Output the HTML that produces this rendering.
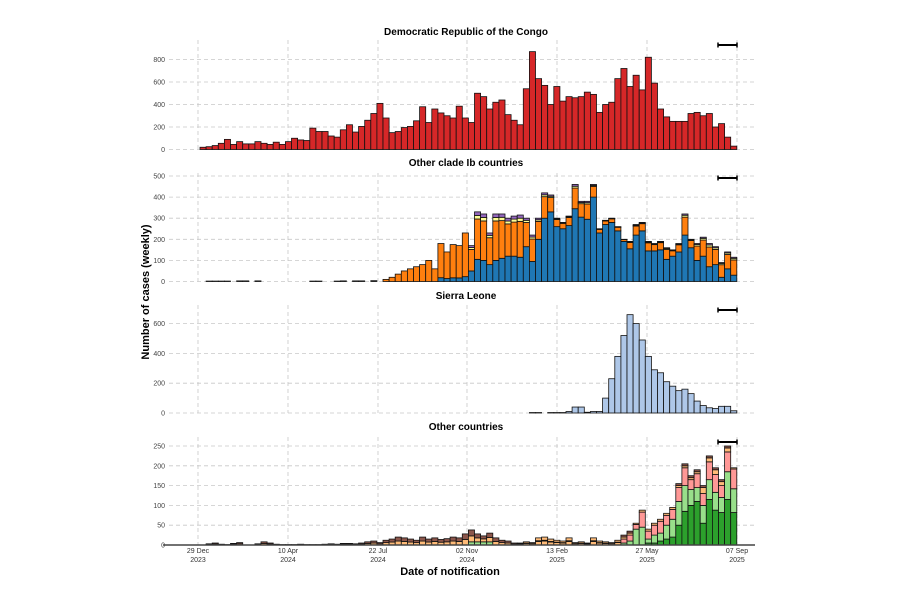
<!DOCTYPE html>
<html><head><meta charset="utf-8"><style>
html,body{margin:0;padding:0;background:#fff;}
svg{display:block;font-family:"Liberation Sans",sans-serif;}
</style></head><body>
<svg id="s" width="900" height="603" xmlns="http://www.w3.org/2000/svg"></svg>
<script>
const S=document.getElementById('s');let h='';
const W=6.1,X0=200;
const gx=[198,288,378,467,557,647,737];
function panel(title,ty,zero,per,step,max,top){
  for(let v=0;v<=max;v+=step){const y=zero-v/step*per;
    h+=`<line x1="169" x2="755" y1="${y}" y2="${y}" stroke="#c8c8c8" stroke-width="0.8" stroke-dasharray="4,3"/>`;
    h+=`<text x="165" y="${y+2.5}" font-size="7" fill="#444" text-anchor="end">${v}</text>`;}
  gx.forEach(x=>h+=`<line x1="${x}" x2="${x}" y1="${top}" y2="${zero}" stroke="#c8c8c8" stroke-width="0.8" stroke-dasharray="4,3"/>`);
  h+=`<text x="466" y="${ty}" font-size="10" font-weight="bold" text-anchor="middle">${title}</text>`;
  const by=top+5;
  h+=`<line x1="718" x2="737" y1="${by}" y2="${by}" stroke="#000" stroke-width="2"/><line x1="718" x2="718" y1="${by-2.5}" y2="${by+2.5}" stroke="#000" stroke-width="1.5"/><line x1="737" x2="737" y1="${by-2.5}" y2="${by+2.5}" stroke="#000" stroke-width="1.5"/>`;
}
function bars(start,data,cols,zero,k){
  data.forEach((d,j)=>{const x=X0+(start+j)*W;let y=zero;
    d.forEach((v,c)=>{if(v<=0)return;const hh=v*k;y-=hh;
      h+=`<rect x="${x.toFixed(2)}" y="${y.toFixed(2)}" width="${W}" height="${hh.toFixed(2)}" fill="${cols[c]}" stroke="#111" stroke-width="0.8"/>`;});});
}
panel('Democratic Republic of the Congo',35,149.5,22.5,200,800,40);
const drc=[20,25,35,55,90,45,70,50,50,70,55,45,65,45,70,100,85,80,190,160,160,120,110,175,220,155,205,260,320,410,280,150,160,195,205,255,380,240,360,325,300,280,385,280,240,500,470,360,420,440,310,260,220,540,870,630,570,400,560,430,470,460,470,510,490,330,400,420,630,720,560,660,530,820,590,360,290,250,250,250,320,330,300,320,200,230,110,30];
bars(0,drc.map(v=>[v]),['#d62728'],149.5,22.5/200);
panel('Other clade Ib countries',166,281.5,21.1,100,500,173);
const cl=[[50,170],[105,330],[100,320],[80,230],[100,320],[110,320],[120,300],[120,310],[115,315],[165,300],[95,220],[200,300],[300,420],[330,410],[260,300],[250,280],[265,310],[345,460],[305,380],[295,380],[400,460],[230,250],[270,290],[280,300],[240,260],[190,200],[155,190],[220,270],[240,280],[145,190],[145,180],[150,190],[105,160],[120,150],[140,180],[220,320],[160,200],[100,180],[120,210],[70,180],[80,165],[20,90],[60,140],[30,115]];
const early=[10,20,35,50,60,70,80,100,60,180,140,175,170,230];
let cd=[];early.forEach((v,i)=>cd.push([i>8?v*0.1:0,v*(i>8?0.9:1),0,0]));
cl.forEach((d,i)=>{let t=d[1]-d[0];let o=t*0.85,r=t-o;cd.push([d[0],o,i>30?r*0.6:r*0.5,i>30?r*0.4:r*0.5]);});
bars(88-cd.length,cd,['#1f77b4','#ff7f0e','#fdfd96','#9467bd'],281.5,21.1/100);
const tiny=[[1,2],[2,2],[3,2],[4,2],[6,3],[7,3],[9,3],[18,2],[19,2],[22,2],[23,3],[25,3],[26,3],[28,4]];
tiny.forEach(([i,v])=>bars(i,[[v]],['#555'],281.5,21.1/100));
panel('Sierra Leone',299,413,29.8,200,600,305);
const sl=[3,3,0,3,3,3,10,40,40,5,10,10,100,230,380,520,660,600,490,380,290,270,210,180,150,160,130,80,50,35,30,45,45,15];
bars(88-sl.length,sl.map(v=>[v]),['#aec7e8'],413,29.8/200);
panel('Other countries',430,545,19.8,50,250,437);
const oc=[];
for(let i=0;i<69;i++){let v=0;
  if(i<30){v=[0,3,5,2,1,4,6,0,0,3,8,5,2,1,1,1,2,1,1,1,2,3,2,4,4,3,5,8,10,6][i];}
  else if(i<52){v=[12,15,20,18,15,12,20,15,18,14,16,20,18,28,30,20,15,22,18,12,10,5][i-30];}
  else {v=[5,8,6,18,20,15,12,10,18,6,8,5,18,10,8,6,12][i-52];}
  oc.push([0,i>=44&&i<=47?8:0,0,v*0.5,v*0.5*(i>=52?0.2:1),v*(i>=52?0.4:0)]);}
const late=[[0,5,10,5,5],[0,10,15,5,5],[0,40,12,3,0],[0,45,38,5,0],[5,10,20,5,0],[5,20,25,5,0],[10,20,30,5,0],[15,35,25,5,0],[20,45,25,5,0],[50,60,35,5,5],[85,65,45,5,5],[100,40,25,5,5],[110,35,35,5,5],[55,45,30,15,5],[115,50,45,10,5],[88,45,45,12,5],[82,38,30,10,5],[115,70,50,10,5],[82,60,50,3,0]];
late.forEach(d=>oc.push([d[0],d[1],d[2],d[3],d[4],0]));
bars(88-oc.length,oc,['#2ca02c','#98df8a','#ff9896','#ffbb78','#8c564b','#ffbb78'],545,19.8/50);
h+=`<line x1="163" x2="755" y1="545" y2="545" stroke="#444" stroke-width="1.5"/>`;
const lab=[['29 Dec','2023'],['10 Apr','2024'],['22 Jul','2024'],['02 Nov','2024'],['13 Feb','2025'],['27 May','2025'],['07 Sep','2025']];
lab.forEach((l,i)=>{h+=`<text x="${gx[i]}" y="553" font-size="7" fill="#333" text-anchor="middle">${l[0]}</text><text x="${gx[i]}" y="562" font-size="7" fill="#333" text-anchor="middle">${l[1]}</text>`;});
h+=`<text x="450" y="575" font-size="11" font-weight="bold" text-anchor="middle">Date of notification</text>`;
h+=`<text transform="translate(149,292) rotate(-90)" font-size="11" font-weight="bold" text-anchor="middle">Number of cases (weekly)</text>`;
S.innerHTML=h;
</script>
</body></html>
